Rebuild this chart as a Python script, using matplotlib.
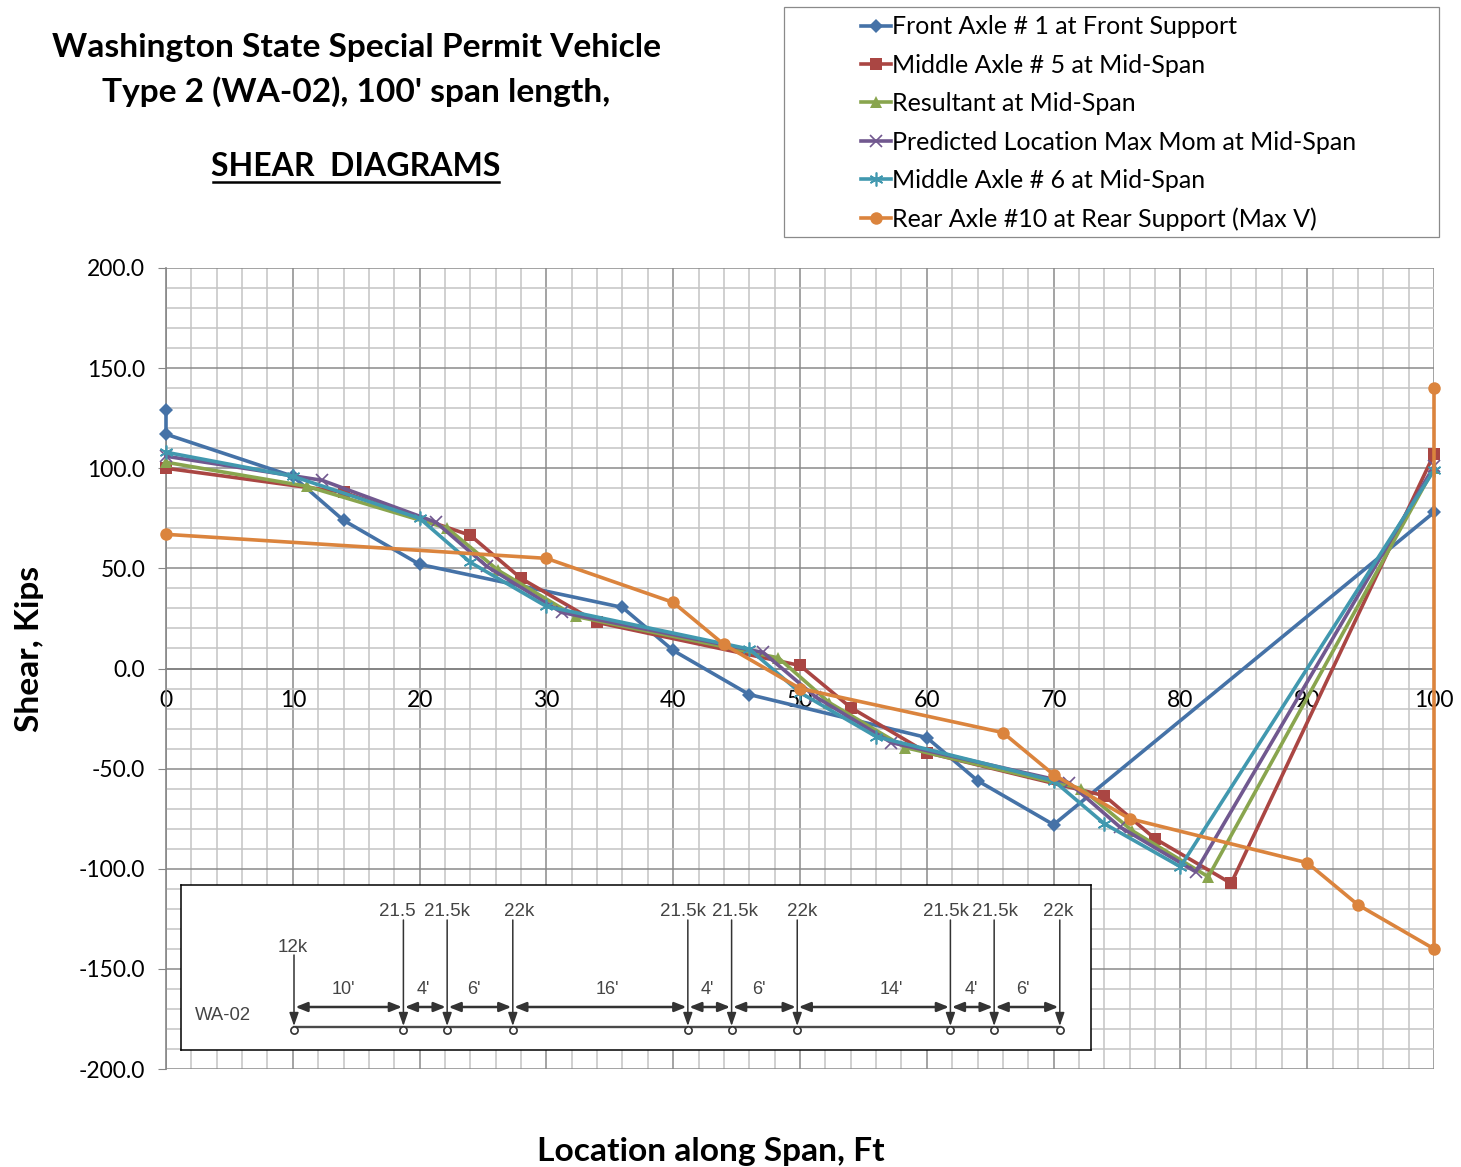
import matplotlib
matplotlib.use("Agg")
import matplotlib.pyplot as plt
from matplotlib.ticker import MultipleLocator, FormatStrFormatter
from matplotlib.patches import Rectangle
from matplotlib.lines import Line2D

plt.rcParams['font.family'] = ['Lato', 'DejaVu Sans']

W, H = 1461, 1167

names = ["Front Axle # 1 at Front Support", "Middle Axle # 5 at Mid-Span", "Resultant at Mid-Span",
         "Predicted Location Max Mom at Mid-Span", "Middle Axle # 6 at Mid-Span",
         "Rear Axle #10 at Rear Support (Max V)"]
x_front = [0, 0, 10, 14, 20, 36, 40, 46, 60, 64, 70, 100]
v_front = [129, 117, 96, 74, 52, 30.5, 9, -13, -34.5, -56, -78, 78]
x_mid5 = [0, 14, 24, 28, 34, 50, 54, 60, 74, 78, 84, 100]
v_mid5 = [100, 88, 66.5, 45, 23, 1.5, -19.5, -42, -63.5, -85, -107.3, 107]
x_res = [0, 11.1, 22.2, 26.2, 32.3, 48.3, 52.3, 58.3, 72.2, 76.2, 82.2, 100]
v_res = [103, 91, 70, 49, 26, 5.3, -17, -39.5, -60, -81, -104, 100]
x_pred = [0, 12.3, 21.3, 25.3, 31.2, 47.1, 51.2, 57.2, 71.2, 75.2, 81.2, 100]
v_pred = [106, 94, 73, 51, 28, 8, -14, -37, -57, -79, -101.5, 101]
x_mid6 = [0, 10, 20, 24, 30, 46, 50, 56, 70, 74, 80, 100]
v_mid6 = [108, 96, 75, 53, 31, 9.7, -12, -34, -56, -77.5, -99, 99]
x_rear = [0, 30, 40, 44, 50, 66, 70, 76, 90, 94, 100, 100]
v_rear = [67, 55, 33, 12, -10, -32, -53, -75, -97, -118, -140, 140]

colors = ["#4572A7", "#AA4643", "#89A54E", "#71588F", "#4198AF", "#DB843D"]
markers = ["D", "s", "^", "x", (6, 2, 0), "o"]
msizes = [6.8, 9.2, 9.0, 9.0, 10.0, 9.0]
xs = [x_front, x_mid5, x_res, x_pred, x_mid6, x_rear]
vs = [v_front, v_mid5, v_res, v_pred, v_mid6, v_rear]

spacings = [10, 4, 6, 16, 4, 6, 14, 4, 6]
space_labels = ["10'", "4'", "6'", "16'", "4'", "6'", "14'", "4'", "6'"]
space_shift = [-5, -2, -6, 7, -2, -6, 17, -1, -4]
load_labels = ["12k", "21.5", "21.5k", "22k", "21.5k", "21.5k", "22k", "21.5k", "21.5k", "22k"]
label_shift = [-1, -6, 0, 6, -5, 3, 5, -4, 1, -2]


def fx(p):
    return p / W


def fy(p):
    return 1 - p / H


fig = plt.figure(figsize=(14.61, 11.67), dpi=100, facecolor="white")
ax = fig.add_axes([fx(166), fy(1069), (1434 - 166) / W, (1069 - 268) / H])
ax.set_xlim(0, 100)
ax.set_ylim(-200, 200)
ax.set_axisbelow(True)
ax.xaxis.set_major_locator(MultipleLocator(10))
ax.xaxis.set_minor_locator(MultipleLocator(2))
ax.yaxis.set_major_locator(MultipleLocator(50))
ax.yaxis.set_minor_locator(MultipleLocator(10))
ax.yaxis.set_major_formatter(FormatStrFormatter("%.1f"))
ax.grid(which="minor", color="#c4c4c4", lw=1.1)
ax.grid(which="major", color="#8a8a8a", lw=1.1)
for s in ["top", "right"]:
    ax.spines[s].set_visible(False)
ax.spines["bottom"].set_position(("data", 0))
ax.spines["bottom"].set_color("#868686")
ax.spines["bottom"].set_linewidth(1.4)
ax.spines["left"].set_color("#868686")
ax.spines["left"].set_linewidth(1.2)
ax.tick_params(axis="x", which="major", length=0, pad=15.5, labelsize=16.5, labelcolor="black")
ax.tick_params(axis="y", which="major", length=6, color="#868686", pad=9, labelsize=16.5)
ax.tick_params(which="minor", length=0)

for i in range(6):
    mew = 1.2 if i in (3, 4) else 0
    ax.plot(xs[i], vs[i], color=colors[i], lw=2.6, marker=markers[i], ms=msizes[i],
            mfc=colors[i], mec=colors[i], mew=mew, label=names[i], clip_on=False, zorder=3 + i)

# titles
tkw = dict(ha="center", va="center", fontweight="bold", fontsize=24.1, color="black")
fig.text(fx(356), fy(48), "Washington State Special Permit Vehicle", **tkw)
fig.text(fx(356), fy(92), "Type 2 (WA-02), 100' span length,", **tkw)
fig.text(fx(356), fy(166), "SHEAR  DIAGRAMS", ha="center", va="center", fontweight="bold", fontsize=23, color="black")
fig.add_artist(Line2D([fx(213), fx(499)], [fy(182), fy(182)], color="black", lw=1.8))
fig.text(fx(30), fy(649), "Shear, Kips", rotation=90, ha="center", va="center",
         fontweight="bold", fontsize=24.1)
fig.text(fx(711), fy(1151), "Location along Span, Ft", ha="center", va="center",
         fontweight="bold", fontsize=24.1)

# legend
fig.add_artist(Rectangle((fx(784), fy(237)), (1439 - 784) / W, 230 / H, fc="white", ec="#8a8a8a", lw=0.9))
h, l = ax.get_legend_handles_labels()
leg = fig.legend(h, l, loc="upper left", bbox_to_anchor=(fx(838), fy(-7)), frameon=False, fontsize=18,
                 handlelength=1.22, handletextpad=0.06, labelspacing=0.614, borderaxespad=0.5, borderpad=0.4)

# axle diagram inset
px_per_ft = 10.94
ins = fig.add_axes([fx(181), fy(1049.5), (1091 - 181) / W, (1049.5 - 885) / H], facecolor="white", zorder=20)
ins.set_xlim((181 - 294) / px_per_ft, (1091 - 294) / px_per_ft)
ins.set_ylim(1049.5, 885)
ins.set_xticks([])
ins.set_yticks([])
for s in ins.spines.values():
    s.set_color("black")
    s.set_linewidth(1.1)

pos = [0]
for s in spacings:
    pos.append(pos[-1] + s)

dark = "#333333"
ins.plot([pos[0], pos[-1]], [1027, 1027], color="#4a4a4a", lw=1.7)
for i, p in enumerate(pos):
    top = 955 if i == 0 else 920
    ins.annotate("", xy=(p, 1026), xytext=(p, top),
                 arrowprops=dict(arrowstyle="-|>,head_width=0.28,head_length=0.8", color=dark, lw=1.1,
                                 shrinkA=0, shrinkB=0))
    ins.plot([p], [1030], marker="o", ms=5.2, mfc="white", mec=dark, mew=1.2, ls="none")
    ins.text(p + label_shift[i] / px_per_ft, 947 if i == 0 else 911.5, load_labels[i], ha="center", va="center",
             fontsize=13.5, color="#444444", family="Liberation Sans")
for i, s in enumerate(spacings):
    ins.annotate("", xy=(pos[i + 1], 1007), xytext=(pos[i], 1007),
                 arrowprops=dict(arrowstyle="<|-|>,head_width=0.28,head_length=0.7", color=dark, lw=1.8,
                                 shrinkA=1, shrinkB=1))
    ins.text((pos[i] + pos[i + 1]) / 2 + space_shift[i] / px_per_ft, 990, space_labels[i], ha="center", va="center",
             fontsize=13, color="#444444", family="Liberation Sans")
ins.text((223 - 294) / px_per_ft, 1015, "WA-02", ha="center", va="center", fontsize=13.3, color="#444444",
         family="Liberation Sans")

fig.savefig("out.png", dpi=100, facecolor="white")
